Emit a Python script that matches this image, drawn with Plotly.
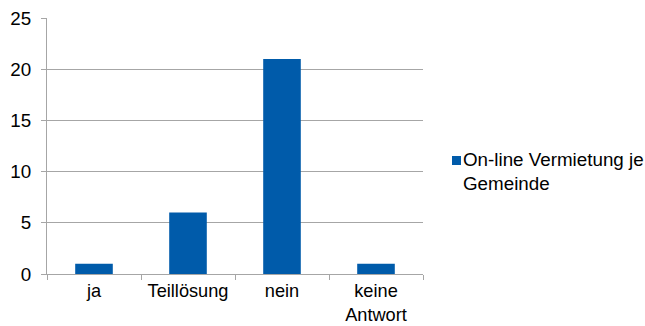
import plotly.graph_objects as go

categories = ["ja", "Teillösung", "nein", "keine<br>Antwort"]
values = [1, 6, 21, 1]
series_name = "On-line Vermietung je<br>Gemeinde"
y_ticks = [0, 5, 10, 15, 20, 25]

bar_color = "#005BAA"
grid_color = "#A6A6A6"
font = dict(family="Liberation Sans, Arial, sans-serif", size=18.8, color="#000000")
xfont = dict(font, size=18.2)

W, H = 645, 326
M = dict(l=47, r=222, t=18, b=52)
PW, PH = W - M["l"] - M["r"], H - M["t"] - M["b"]


def px(x):
    return (x - M["l"]) / PW


def py(y):
    return (H - M["b"] - y) / PH


fig = go.Figure()
fig.add_trace(go.Bar(x=categories, y=values, name=series_name,
                     marker=dict(color=bar_color, line=dict(width=0)),
                     showlegend=False))

fig.update_layout(
    width=W, height=H,
    margin=M,
    paper_bgcolor="white", plot_bgcolor="white",
    font=font,
    bargap=0.6,
    xaxis=dict(type="category", range=[-0.5, 3.5], automargin=False,
               showline=True, linecolor=grid_color, linewidth=1,
               ticks="outside", tickson="boundaries", ticklen=5,
               tickcolor=grid_color, showgrid=False, zeroline=False,
               ticklabelstandoff=0, tickfont=xfont),
    yaxis=dict(range=[0, 25], tickvals=y_ticks, automargin=False,
               showline=True, linecolor=grid_color, linewidth=1,
               ticks="outside", ticklen=5, tickcolor=grid_color,
               showgrid=True, gridcolor=grid_color, gridwidth=1,
               zeroline=False, ticklabelstandoff=6, tickfont=font),
)

# Legend entry: coloured square plus series label
fig.add_shape(type="rect", xref="paper", yref="paper",
              x0=px(452), x1=px(461), y0=py(165), y1=py(156),
              fillcolor=bar_color, line=dict(width=0))
fig.add_annotation(xref="paper", yref="paper",
                   x=px(461), y=py(171),
                   xanchor="left", yanchor="middle", align="left",
                   text=series_name, showarrow=False, font=font)

fig.write_html("out.html")
